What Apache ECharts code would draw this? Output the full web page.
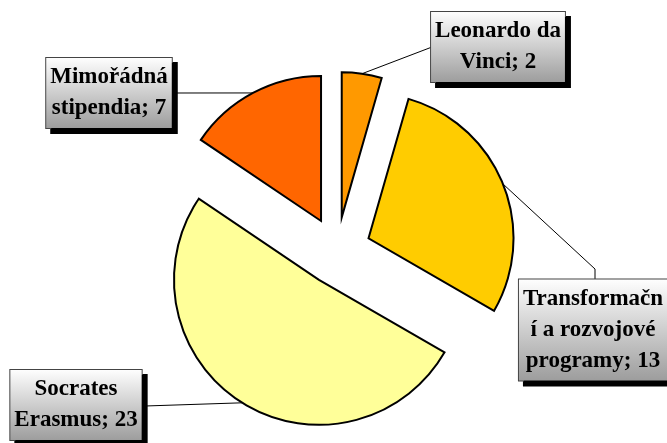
<!DOCTYPE html>
<html>
<head>
<meta charset="utf-8">
<script src="https://cdn.jsdelivr.net/npm/echarts@6/dist/echarts.min.js"></script>
<style>
  html, body { margin: 0; padding: 0; background: #fff; }
  #chart { width: 667px; height: 443px; }
</style>
</head>
<body>
<div id="chart"></div>
<script>
// data
const names = ["Leonardo da Vinci", "Transformační a rozvojové programy", "Socrates Erasmus", "Mimořádná stipendia"];
const values = [2, 13, 23, 7];
// how the names are wrapped in the label boxes
const wrapped = ["Leonardo da\nVinci", "Transformačn\ní a rozvojové\nprogramy", "Socrates\nErasmus", "Mimořádná\nstipendia"];
const colors = ["#FF9900", "#FFCC00", "#FFFF99", "#FF6600"];

const pieCenter = [337, 251];
const pieRadius = 145;
const explode = 34;

// label box centres and where the leader line meets the box
const boxCenter = [[498, 47], [593, 330], [76, 405], [109, 93]];
const lineEnds = [
    [[432, 47]],
    [[595, 269], [595, 279]],
    [[145, 406]],
    [[174, 93]]
];

var myChart = echarts.init(document.getElementById("chart"));

var option = {
    animation: false,
    series: [{
        // the exploded slices
        type: "pie",
        center: pieCenter,
        radius: pieRadius,
        startAngle: 90,
        clockwise: true,
        selectedMode: "multiple",
        selectedOffset: explode,
        emphasis: { disabled: true },
        itemStyle: {
            borderColor: "#000",
            borderWidth: 2,
            borderJoin: "miter"
        },
        label: { show: false },
        labelLine: { show: false },
        data: names.map(function (n, i) {
            return { name: n, value: values[i], selected: true, itemStyle: { color: colors[i] } };
        })
    }, {
        // same slices, invisible, only carrying the label boxes
        type: "pie",
        center: pieCenter,
        radius: pieRadius,
        startAngle: 90,
        clockwise: true,
        silent: true,
        selectedMode: false,
        emphasis: { disabled: true },
        itemStyle: { color: "rgba(0,0,0,0)", borderWidth: 0 },
        label: {
            show: true,
            position: "outside",
            formatter: function (p) {
                return wrapped[p.dataIndex] + "; " + p.value;
            },
            fontFamily: "Liberation Serif",
            fontWeight: "bold",
            fontSize: 23,
            lineHeight: 31,
            color: "#000",
            align: "center",
            padding: [4, 4, 4, 4],
            borderColor: "#444",
            borderWidth: 1,
            backgroundColor: {
                type: "linear", x: 0, y: 0, x2: 0, y2: 1,
                colorStops: [{ offset: 0, color: "#ffffff" }, { offset: 1, color: "#9c9c9c" }]
            },
            shadowColor: "#000",
            shadowBlur: 0,
            shadowOffsetX: 5,
            shadowOffsetY: 5
        },
        labelLine: {
            show: true,
            length: 10,
            length2: 10,
            lineStyle: { color: "#000", width: 1 }
        },
        labelLayout: function (p) {
            var i = p.dataIndex;
            var out = {
                x: boxCenter[i][0],
                y: boxCenter[i][1],
                align: "center",
                verticalAlign: "middle"
            };
            if (p.labelLinePoints) {
                // push the start point out with the exploded slice
                var pt = p.labelLinePoints[0];
                var dx = pt[0] - pieCenter[0], dy = pt[1] - pieCenter[1];
                var len = Math.sqrt(dx * dx + dy * dy) || 1;
                var start = [pt[0] + explode * dx / len, pt[1] + explode * dy / len];
                out.labelLinePoints = [start].concat(lineEnds[i]);
            }
            return out;
        },
        data: names.map(function (n, i) {
            return { name: n, value: values[i] };
        })
    }]
};
myChart.setOption(option);
</script>
</body>
</html>
